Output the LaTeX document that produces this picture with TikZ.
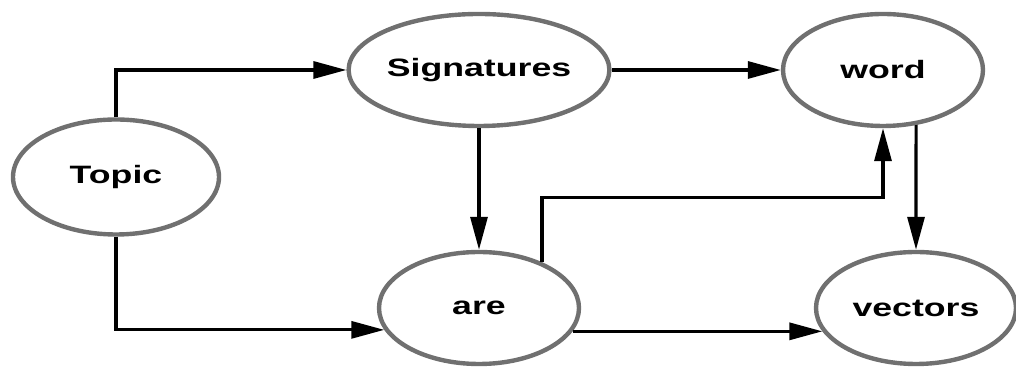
\documentclass[tikz,border=0pt]{standalone}
\usepackage{fontspec}
\usetikzlibrary{shapes.geometric,arrows.meta,calc}
\newfontfamily\lblfont{Liberation Sans}[FakeStretch=1.42]
\definecolor{rim}{RGB}{112,112,112}

\begin{document}
\begin{tikzpicture}[arr/.style={draw=black, line width=1.8pt, -{Triangle[length=0.66cm,width=0.34cm]}}]
\tikzstyle{blob}=[ellipse, draw=rim, line width=2.5pt, fill=white, minimum width=4cm, minimum height=2.24cm, inner sep=0pt, font=\lblfont\bfseries\fontsize{14.3}{17}\selectfont]
\useasboundingbox (0,0) rectangle (20.32,7.34);
\node[blob, minimum width=4.12cm, minimum height=2.3cm] (topic) at (2.32,3.80) {Topic};
\node[blob] (sig) at (9.58,5.94) {Signatures};
\node[blob] (word) at (17.66,5.94) {word};
\node[blob] (are) at (9.58,1.18) {are};
\node[blob] (vec) at (18.32,1.18) {vectors};
\foreach \i/\j in {sig.east/word.west, sig.south/are.north, word.-59/vec.north, are.-14/vec.194}{\draw[arr] (\i) -- (\j);}
\draw[arr] (topic.north) |- (sig.west);
\draw[arr] (topic.south) |- (are.193);
\draw[arr] (are.36) -- ++(0,1.30) -| (word.south);
\end{tikzpicture}
\end{document}
